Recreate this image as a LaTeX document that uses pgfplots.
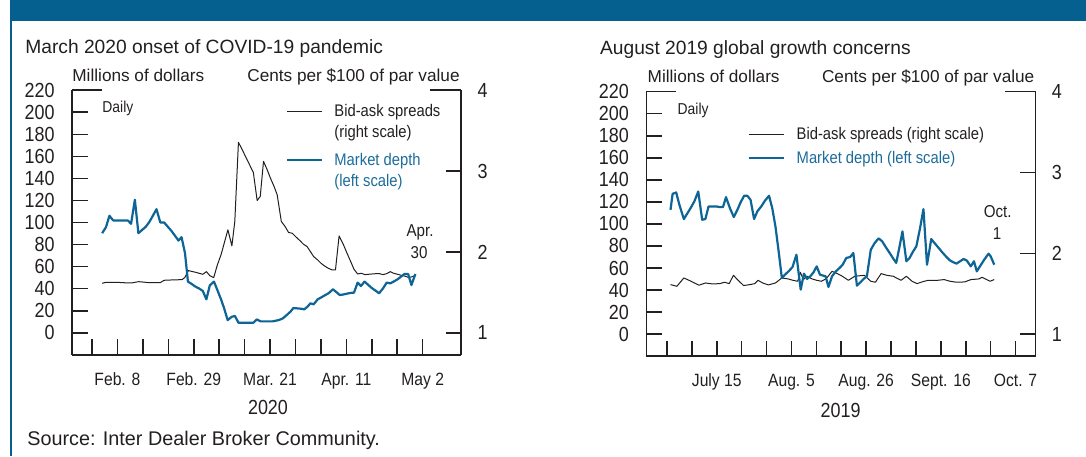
\documentclass[border=0pt]{standalone}
\usepackage{fontspec}
\setmainfont{Liberation Sans}
\newfontfamily\cond[FakeStretch=0.88]{Liberation Sans}
\usepackage{pgfplots}
\pgfplotsset{compat=1.18}
\definecolor{hdr}{RGB}{5,96,143}
\definecolor{dblue}{RGB}{13,100,150}
\definecolor{tblue}{RGB}{28,108,155}
\definecolor{ink}{RGB}{35,31,32}

\pgfplotsset{
  panel/.style={
    scale only axis, width=194.6pt, height=132.3pt,
    anchor=south west, clip=false,
    tick align=inside, major tick length=7.8pt,
    axis line style={ink, line width=0.8pt},
    every outer x axis line/.append style={-},
    every outer y axis line/.append style={-},
    every inner x axis line/.append style={-},
    every inner y axis line/.append style={-},
    every tick/.style={ink, line width=0.8pt},
    /pgf/number format/assume math mode=true,
  },
  leftscale/.style={
    panel, ymin=-20, ymax=220,
    axis x line*=bottom, axis y line*=left,
    ytick={0,20,...,220},
    yticklabel style={font=\cond\fontsize{10.2}{12}\selectfont, text=ink, anchor=east, inner sep=0pt, xshift=-8.5pt},
    xticklabel style={font=\cond\fontsize{8.9}{10}\selectfont, text=ink, anchor=base, inner sep=0pt, yshift=-15.2pt},
  },
  rightscale/.style={
    panel, ymin=0.727273, ymax=4,
    axis x line=none, axis y line*=right,
    ytick={1,2,3,4},
    yticklabel style={font=\cond\fontsize{10.2}{12}\selectfont, text=ink, anchor=west, inner sep=0pt, xshift=8pt},
  },
}

\begin{document}
\begin{tikzpicture}
\path[use as bounding box] (0pt,0pt) rectangle (543pt,228pt);
\fill[hdr] (5pt,217.3pt) rectangle (543pt,228pt);
\draw[hdr, line width=0.9pt] (5.4pt,0pt) -- (5.4pt,228pt);

% ================= LEFT PANEL =================
\begin{axis}[rightscale, at={(36pt,50.6pt)}, xmin=26.5, xmax=133.6]
\addplot[ink, line width=0.5pt, line join=round] coordinates {
(34.8,1.612) (35.85,1.624) (38.8,1.624) (41.9,1.616) (42.9,1.616) (44.85,1.632) (47.6,1.620) (50.8,1.620) (51.85,1.649) (53.9,1.653) (56.8,1.657) (57.6,1.686) (58.5,1.769) (60.5,1.748) (62.5,1.723) (63.5,1.756) (64.4,1.707) (65.5,1.682) (66.5,1.839) (67.5,1.963) (69.4,2.273) (70.5,2.074) (71.3,2.376) (72.3,3.355) (73.35,3.264) (74.3,3.174) (75.35,3.079) (76.4,2.983) (77.45,2.636) (78.3,2.686) (79.2,3.120) (80.2,3.017) (81.1,2.913) (82.1,2.810) (82.96,2.707) (84.1,2.376) (85.15,2.314) (86.1,2.240) (87.1,2.231) (88.2,2.182) (89.3,2.136) (90.2,2.095) (91.2,2.066) (92.1,2.004) (93.0,1.942) (94.1,1.901) (95.0,1.860) (96.0,1.826) (97.0,1.798) (98.1,1.777) (99.0,1.777) (100.0,2.198) (101.1,2.099) (102.1,1.992) (103.2,1.880) (104.1,1.785) (105.1,1.727) (106.1,1.736) (107.1,1.719) (108.05,1.723) (109.1,1.727) (110.15,1.731) (111.1,1.731) (112.1,1.719) (113.1,1.731) (114.1,1.756) (115.0,1.736) (116.1,1.723) (117.05,1.711) (118.0,1.702) (119.0,1.686) (119.9,1.690) (121.0,1.711)
};
\draw[ink, line width=0.8pt] (rel axis cs:1,1) -- ++(-15.5pt,0pt);
\end{axis}

\begin{axis}[leftscale, at={(36pt,50.6pt)}, xmin=26.5, xmax=133.6,
  xtick={32,39,46,53,60,67,74,81,88,95,102,109,116,123},
  xticklabels={,Feb. 8,,,Feb. 29,,,Mar. 21,,,Apr. 11,,,May 2}]
\addplot[dblue, line width=1.1pt, line join=round] coordinates {
(34.8,90.3) (35.85,95.8) (36.8,106.1) (37.86,101.8) (38.8,101.8) (39.87,101.8) (40.9,101.8) (41.88,101.8) (42.75,98.8) (43.8,120.6) (44.77,90.3) (45.8,93.3) (46.8,96.1) (47.8,100.6) (48.8,106.4) (49.75,112.1) (50.8,100) (51.85,100) (52.8,96.4) (53.86,92.4) (54.8,88.2) (55.8,83.6) (56.65,86.7) (57.6,72.1) (58.4,46.4) (59.45,44.2) (60.5,41.8) (61.55,40) (62.5,37.9) (63.47,30.3) (64.43,43) (65.57,46.4) (66.53,38.5) (67.58,29.7) (68.37,22.1) (69.33,11.5) (70.47,14.5) (71.34,15.2) (72.3,9.1) (73.35,9.1) (74.3,9.1) (75.45,9.1) (76.4,9.1) (77.37,12.1) (78.4,10.3) (79.5,10.3) (80.6,10.3) (81.65,10.3) (83.4,11.5) (84.5,13.0) (85.6,16.1) (86.6,19.1) (87.4,22.4) (88.5,22.1) (89.5,21.8) (90.4,21.2) (91.3,23.6) (92.1,26.7) (93.0,25.8) (94.1,30.3) (95.1,32.1) (96.2,34.2) (97.1,35.8) (98.3,39.4) (99.1,37.3) (100.2,34.2) (101.3,34.8) (102.2,35.5) (103.1,36.1) (104.1,36.4) (105.1,45.5) (106.0,42.4) (107.0,46.4) (108.05,43.3) (109.1,40.3) (110.15,37.9) (111.0,35.8) (112.1,40.3) (113.1,45.5) (114.1,44.8) (115.0,46.4) (116.1,48.5) (117.05,50.9) (118.0,53.3) (119.0,53.3) (119.9,43.3) (121.0,53.3)
};
\draw[ink, line width=0.8pt] (rel axis cs:0,1) -- ++(15pt,0pt);
\end{axis}

% ================= RIGHT PANEL =================
\begin{axis}[rightscale, at={(323.15pt,49.9pt)}, xmin=176.2, xmax=285.6]
\addplot[ink, line width=0.5pt, line join=round] coordinates {
(183.0,1.613) (184.8,1.592) (186.75,1.695) (188.8,1.654) (191.0,1.605) (192.8,1.633) (194.8,1.621) (196.85,1.625) (198.2,1.642) (199.5,1.625) (200.7,1.728) (201.8,1.675) (203.55,1.601) (205.35,1.613) (206.7,1.625) (207.6,1.666) (208.9,1.633) (210.5,1.609) (212.5,1.633) (214.3,1.695) (216.1,1.683) (217.4,1.666) (218.75,1.654) (219.5,1.765) (220.35,1.675) (221.4,1.716) (222.8,1.683) (224.1,1.666) (225.4,1.654) (226.8,1.687) (228.4,1.777) (229.9,1.749) (231.3,1.716) (233.0,1.666) (234.8,1.716) (237.5,1.728) (239.3,1.654) (240.6,1.642) (242.2,1.749) (243.8,1.728) (245.6,1.716) (247.8,1.666) (249.3,1.716) (250.9,1.654) (252.3,1.625) (254.0,1.650) (255.4,1.666) (258.1,1.666) (259.9,1.675) (261.6,1.654) (263.4,1.642) (265.7,1.646) (267.45,1.675) (269.7,1.683) (270.6,1.703) (271.9,1.675) (272.8,1.654) (274.0,1.675)
};
\draw[ink, line width=0.8pt] (rel axis cs:1,1) -- ++(-15.5pt,0pt);
\end{axis}

\begin{axis}[leftscale, at={(323.15pt,49.9pt)}, xmin=176.2, xmax=285.6,
  xtick={182,189,196,203,210,217,224,231,238,245,252,259,266,273,280},
  xticklabels={,,July 15,,,Aug. 5,,,Aug. 26,,,Sept. 16,,,Oct. 7}]
\addplot[dblue, line width=1.1pt, line join=round] coordinates {
(183.0,112.8) (183.6,127.3) (184.6,128.5) (185.5,117.3) (186.75,104.4) (187.9,110.4) (188.8,115.2) (189.7,120.4) (190.8,129.4) (191.9,103.8) (192.8,104.4) (193.7,115.8) (194.8,115.8) (196.0,115.8) (196.85,115.2) (197.75,115.2) (198.6,124.3) (199.7,114.3) (200.8,106.2) (201.8,112.8) (202.7,119.5) (203.7,125.5) (204.6,125.5) (205.5,121.9) (206.5,104.4) (207.4,111.3) (208.5,115.8) (209.6,121.3) (210.7,125.5) (211.6,114.3) (212.5,97.7) (213.4,75.1) (214.3,51.0) (215.2,54.0) (216.2,57.0) (217.3,60.9) (218.4,72.1) (218.9,58.5) (219.6,40.4) (220.5,54.9) (221.4,50.1) (222.3,52.5) (223.2,56.1) (224.1,61.5) (225.0,54.0) (225.9,53.1) (226.6,52.5) (227.4,42.8) (228.4,52.5) (229.5,57.0) (230.5,60.0) (231.4,63.0) (232.4,69.1) (233.5,70.0) (234.4,73.6) (235.4,44.0) (236.4,47.1) (237.3,50.1) (238.2,52.5) (239.3,76.6) (240.4,82.7) (241.5,86.9) (242.5,84.2) (243.5,79.0) (244.5,74.2) (245.5,69.1) (246.45,64.6) (247.3,78.1) (248.2,93.2) (249.3,66.1) (250.2,69.1) (251.1,74.5) (252.1,79.6) (253.15,96.2) (254.1,113.4) (255.1,63.0) (256.3,86.3) (257.35,82.1) (258.4,78.1) (259.4,74.2) (260.4,70.6) (261.5,67.0) (262.5,65.2) (263.4,64.0) (264.4,66.1) (265.4,68.2) (266.3,66.7) (267.4,61.5) (268.3,66.1) (269.1,57.0) (270.1,62.1) (271.2,67.6) (272.4,73.0) (273.0,70.6) (274.0,63.0)
};
\draw[ink, line width=0.8pt] (rel axis cs:0,1) -- ++(15pt,0pt);
\end{axis}

% ================= TEXT =================
\begin{scope}[every node/.style={inner sep=0pt, text=ink}]
\node[anchor=base west, font=\fontsize{9.6}{11}\selectfont] at (12.5pt,201pt) {March 2020 onset of COVID-19 pandemic};
\node[anchor=base west, font=\fontsize{9.6}{11}\selectfont] at (299.85pt,200.5pt) {August 2019 global growth concerns};
\node[anchor=base west, font=\fontsize{8.6}{10}\selectfont] at (36pt,187.2pt) {Millions of dollars};
\node[anchor=base west, font=\fontsize{8.6}{10}\selectfont] at (323.65pt,186.7pt) {Millions of dollars};
\node[anchor=base east, font=\fontsize{8.6}{10}\selectfont] at (230pt,187.2pt) {Cents per \$100 of par value};
\node[anchor=base east, font=\fontsize{8.6}{10}\selectfont] at (517.35pt,186.7pt) {Cents per \$100 of par value};
\node[anchor=base west, font=\cond\fontsize{7.9}{9}\selectfont] at (51pt,171.65pt) {Daily};
\node[anchor=base west, font=\cond\fontsize{7.9}{9}\selectfont] at (338.65pt,170.5pt) {Daily};
% legend left
\draw[ink, line width=0.5pt] (143.5pt,172pt) -- (161pt,172pt);
\node[anchor=base west, font=\cond\fontsize{8.4}{10}\selectfont] at (167pt,169.5pt) {Bid-ask spreads};
\node[anchor=base west, font=\cond\fontsize{8.4}{10}\selectfont] at (167pt,159.3pt) {(right scale)};
\draw[dblue, line width=1.1pt] (143.5pt,148pt) -- (161pt,148pt);
\node[anchor=base west, font=\cond\fontsize{8.4}{10}\selectfont, text=tblue] at (167pt,145.2pt) {Market depth};
\node[anchor=base west, font=\cond\fontsize{8.4}{10}\selectfont, text=tblue] at (167pt,135pt) {(left scale)};
% legend right
\draw[ink, line width=0.5pt] (374.35pt,160.5pt) -- (392pt,160.5pt);
\node[anchor=base west, font=\cond\fontsize{8.4}{10}\selectfont] at (398.15pt,158pt) {Bid-ask spreads (right scale)};
\draw[dblue, line width=1.1pt] (374.35pt,149pt) -- (392pt,149pt);
\node[anchor=base west, font=\cond\fontsize{8.4}{10}\selectfont, text=tblue] at (398.15pt,146.3pt) {Market depth (left scale)};
% annotations
\node[anchor=base, font=\cond\fontsize{8.6}{10}\selectfont] at (210pt,109.85pt) {Apr.};
\node[anchor=base, font=\cond\fontsize{8.6}{10}\selectfont] at (209.5pt,98.65pt) {30};
\node[anchor=base, font=\cond\fontsize{8.6}{10}\selectfont] at (498.85pt,119.5pt) {Oct.};
\node[anchor=base, font=\cond\fontsize{8.6}{10}\selectfont] at (498.5pt,108.2pt) {1};
% years
\node[anchor=base, font=\cond\fontsize{10.2}{12}\selectfont] at (134pt,20.7pt) {2020};
\node[anchor=base, font=\cond\fontsize{10.2}{12}\selectfont] at (420.35pt,19.4pt) {2019};
% source
\node[anchor=base west, font=\fontsize{9.9}{12}\selectfont] at (13.5pt,5.4pt) {Source: Inter Dealer Broker Community.};
\end{scope}
\end{tikzpicture}
\end{document}
